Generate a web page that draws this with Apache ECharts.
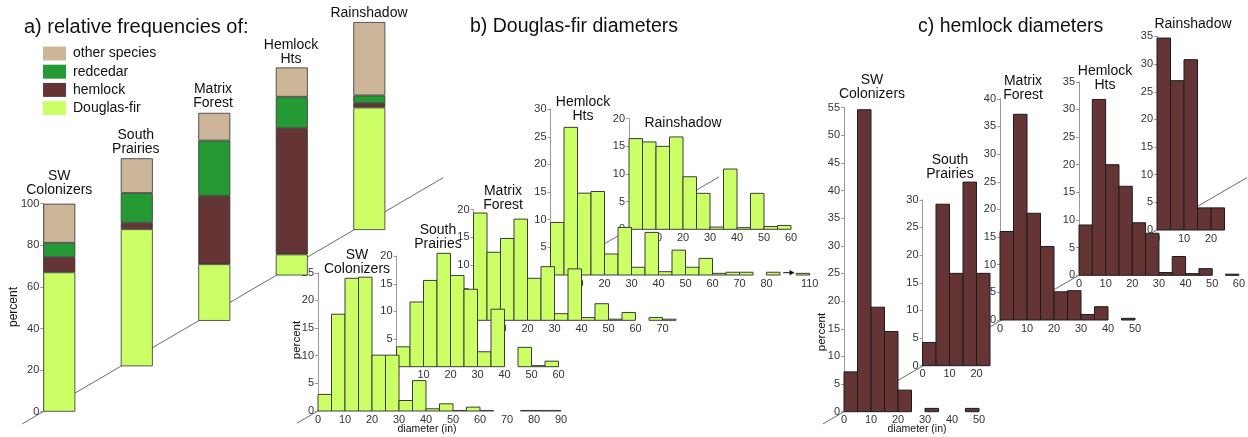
<!DOCTYPE html>
<html><head><meta charset="utf-8">
<script src="https://cdn.jsdelivr.net/npm/echarts@6/dist/echarts.min.js"></script>
<style>html,body{margin:0;padding:0;background:#fff}#c{width:1248px;height:437px}</style>
</head><body><div id="c"></div>
<script>
// ---------------- data ----------------
const sites = ['SW Colonizers', 'South Prairies', 'Matrix Forest', 'Hemlock Hts', 'Rainshadow'];
const siteLabels = ['SW\nColonizers', 'South\nPrairies', 'Matrix\nForest', 'Hemlock\nHts', 'Rainshadow'];
const species = ['other species', 'redcedar', 'hemlock', 'Douglas-fir'];
// panel a: relative frequencies (percent) per site
const pctDouglasFir = [67.0, 65.9, 27.2, 10.1, 58.9];
const pctHemlock    = [7.3, 3.1, 32.9, 60.7, 2.1];
const pctRedcedar   = [6.9, 14.3, 26.6, 15.1, 3.7];
const pctOther      = [18.8, 16.7, 13.3, 14.1, 35.3];
// diameter classes (in), 5-inch bins, lower edges
const binStarts = [0, 5, 10, 15, 20, 25, 30, 35, 40, 45, 50, 55, 60, 65, 70, 75, 80, 85];
const hhDfBinStarts = [0, 5, 10, 15, 20, 25, 30, 35, 40, 45, 50, 55, 60, 65, 70, 75, 80, 105];
// panel b: Douglas-fir diameter distributions (percent)
const dfSW = [3.0, 17.5, 24.0, 24.2, 10.1, 10.1, 1.9, 5.5, 0.4, 1.3, 0.1, 0.7, 0.1, 0, 0, 0.1, 0.1, 0.1];
const dfSP = [3.6, 11.7, 15.6, 20.5, 16.5, 14.0, 2.7, 10.4, 0, 3.5, 0.2, 1.0];
const dfMF = [19.4, 12.3, 14.8, 18.3, 7.6, 9.7, 1.2, 9.3, 0.5, 3.0, 0.2, 1.4, 0, 0.5, 0.2];
const dfHH = [9.5, 26.7, 14.8, 15.1, 3.8, 8.6, 1.4, 7.7, 0.6, 4.5, 1.4, 3.0, 0.3, 0.5, 0.5, 0, 0.5, 0.3];
const dfRS = [16.4, 15.8, 15.0, 16.7, 9.5, 6.5, 0.4, 10.9, 0.3, 6.5, 0.5, 0.7];
// panel c: hemlock diameter distributions (percent)
const hmSW = [7.2, 54.6, 18.9, 14.5, 3.9, 0, 0.6, 0, 0, 0.6];
const hmSP = [4.2, 29.2, 16.7, 33.2, 16.7];
const hmMF = [16.0, 37.2, 19.3, 13.3, 5.1, 5.3, 1.0, 2.4, 0, 0.3];
const hmHH = [9.1, 31.8, 20.0, 16.1, 9.5, 7.6, 0.5, 3.4, 0.3, 1.2, 0, 0.2];
const hmRS = [34.7, 27.0, 30.8, 4.0, 4.0];
// tick labels
const pctTicksA = [0, 20, 40, 60, 80, 100];
const bXTicks = [
  [0, 10, 20, 30, 40, 50, 60, 70, 80, 90],
  [0, 10, 20, 30, 40, 50, 60],
  [0, 10, 20, 30, 40, 50, 60, 70],
  [0, 10, 20, 30, 40, 50, 60, 70, 80, 110],
  [0, 10, 20, 30, 40, 50, 60]
];
const cXTicks = [
  [0, 10, 20, 30, 40, 50],
  [0, 10, 20],
  [0, 10, 20, 30, 40, 50],
  [0, 10, 20, 30, 40, 50, 60],
  [0, 10, 20]
];

// ---------------- layout / style ----------------
const FONT = "'Liberation Sans', Arial, sans-serif";
const SX = 2.7, SY = 5.53;
const COL = {'other species': '#cdb599', 'redcedar': '#259934', 'hemlock': '#653434', 'Douglas-fir': '#ccff66'};
const aLeft0 = 43.3, aBase0 = 411.7, aDX = 77.5, aDY = 45.42, aW = 32, aH = 208;
const bOrigins = [[318, 411], [396.5, 366.7], [473.5, 320.3], [550.5, 275], [629, 229.3]];
const cOrigins = [[844, 411.7], [922.5, 365.7], [1000, 320], [1079, 275.3], [1157, 230]];
const bXMax = [90, 60, 75, 96, 60], bYMax = [25, 20, 20, 30, 20];
const cXMax = [50, 25, 50, 60, 25], cYMax = [55, 30, 40, 35, 35];
const hhBreak = x => (x >= 105 ? x - 14 : x);
const hhUnbreak = v => (v > 90 ? v + 14 : v);
const ident = x => x;

const option = {
  animation: false,
  textStyle: {fontFamily: FONT},
  grid: [], xAxis: [], yAxis: [], series: [],
  legend: {
    orient: 'vertical', left: 43, top: 46.5, padding: 0, itemWidth: 23, itemHeight: 14, itemGap: 4.2,
    icon: 'rect', data: species, selectedMode: false,
    itemStyle: {borderWidth: 0},
    textStyle: {fontSize: 14, color: '#111', fontFamily: FONT, padding: [0, 0, 0, 2]}
  },
  graphic: {elements: []}
};

// ---------- panel a ----------
const aVals = {'Douglas-fir': pctDouglasFir, 'hemlock': pctHemlock, 'redcedar': pctRedcedar, 'other species': pctOther};
const stackOrder = ['Douglas-fir', 'hemlock', 'redcedar', 'other species'];
for (let i = 0; i < 5; i++) {
  option.grid.push({left: aLeft0 + i * aDX, top: aBase0 - i * aDY - aH, width: aW, height: aH});
  option.xAxis.push({type: 'category', gridIndex: i, data: [sites[i]], show: false});
  option.yAxis.push({
    type: 'value', gridIndex: i, min: 0, max: 100, interval: 20, show: i === 0,
    axisLine: {show: true, lineStyle: {color: '#999'}},
    axisTick: {show: true, length: 3, lineStyle: {color: '#999'}},
    axisLabel: {fontSize: 11, color: '#333', margin: 4, customValues: pctTicksA},
    splitLine: {show: false}
  });
}

// ---------- histogram grids ----------
function addHistGrid(origin, xmax, ymax, xticks, mapX, unmap) {
  const gi = option.grid.length;
  option.grid.push({left: origin[0], top: origin[1] - ymax * SY, width: xmax * SX, height: ymax * SY});
  option.xAxis.push({
    type: 'value', gridIndex: gi, min: 0, max: xmax,
    axisLine: {show: false}, axisTick: {show: false}, splitLine: {show: false},
    axisLabel: {customValues: xticks.map(mapX), fontSize: 11, color: '#333', margin: 3,
      formatter: v => String(Math.round(unmap(v)))}
  });
  option.yAxis.push({
    type: 'value', gridIndex: gi, min: 0, max: ymax, interval: 5,
    axisLine: {show: true, lineStyle: {color: '#999'}},
    axisTick: {show: true, length: 3, lineStyle: {color: '#999'}},
    axisLabel: {fontSize: 11, color: '#333', margin: 4},
    splitLine: {show: false}
  });
  return gi;
}
function histSeries(gi, starts, vals, fill, stroke, mapX, name) {
  return {
    type: 'custom', name: name, xAxisIndex: gi, yAxisIndex: gi,
    encode: {x: [0, 1], y: 2},
    data: vals.map((v, k) => [starts[k], starts[k] + 5, v]),
    renderItem: function (params, api) {
      const v = api.value(2);
      if (!(v > 0)) return null;
      const p0 = api.coord([mapX(api.value(0)), v]);
      const p1 = api.coord([mapX(api.value(1)), 0]);
      return {type: 'rect', shape: {x: p0[0], y: p0[1], width: p1[0] - p0[0], height: p1[1] - p0[1]},
        style: {fill: fill, stroke: stroke, lineWidth: 1}};
    }
  };
}

const bGi = [], cGi = [];
for (let i = 0; i < 5; i++) {
  const mx = i === 3 ? hhBreak : ident, um = i === 3 ? hhUnbreak : ident;
  bGi.push(addHistGrid(bOrigins[i], bXMax[i], bYMax[i], bXTicks[i], mx, um));
}
for (let i = 0; i < 5; i++) {
  cGi.push(addHistGrid(cOrigins[i], cXMax[i], cYMax[i], cXTicks[i], ident, ident));
}

// series: back panels first so front panels draw on top
const dfData = [dfSW, dfSP, dfMF, dfHH, dfRS];
const hmData = [hmSW, hmSP, hmMF, hmHH, hmRS];
for (let i = 4; i >= 0; i--) {
  for (const sp of stackOrder) {
    option.series.push({
      type: 'bar', name: sp, stack: 'a' + i, xAxisIndex: i, yAxisIndex: i, barWidth: '100%',
      data: [aVals[sp][i]],
      itemStyle: {color: COL[sp], borderColor: '#333', borderWidth: 0.8}
    });
  }
}
for (let i = 4; i >= 0; i--) {
  const mx = i === 3 ? hhBreak : ident;
  option.series.push(histSeries(bGi[i], i === 3 ? hhDfBinStarts : binStarts, dfData[i], '#ccff66', '#3c3c3c', mx, 'df ' + sites[i]));
  if (i === 3) {
    option.series.push({
      type: 'custom', xAxisIndex: bGi[3], yAxisIndex: bGi[3], encode: {x: [0, 1], y: 2},
      data: [[86.2, 90.4, 0.42]],
      renderItem: function (params, api) {
        const a = api.coord([api.value(0), api.value(2)]);
        const b = api.coord([api.value(1), api.value(2)]);
        return {type: 'group', children: [
          {type: 'line', shape: {x1: a[0], y1: a[1], x2: b[0] - 4, y2: b[1]}, style: {stroke: '#111', lineWidth: 1}},
          {type: 'polygon', shape: {points: [[b[0], b[1]], [b[0] - 5, b[1] - 2.6], [b[0] - 5, b[1] + 2.6]]}, style: {fill: '#111'}}
        ]};
      }
    });
  }
}
for (let i = 4; i >= 0; i--) {
  option.series.push(histSeries(cGi[i], binStarts, hmData[i], '#653434', '#1c1c1c', ident, 'hm ' + sites[i]));
}

// ---------- decorations: depth lines, titles, labels ----------
const G = option.graphic.elements;
function depthLine(o0, o4) {
  G.push({type: 'line', z: -10, shape: {x1: o0[0] - 21, y1: o0[1] + 12.2, x2: o4[0] + 90, y2: o4[1] - 52.4},
    style: {stroke: '#444', lineWidth: 0.8}});
}
depthLine([aLeft0, aBase0], [aLeft0 + 4 * aDX, aBase0 - 4 * aDY]);
depthLine(bOrigins[0], bOrigins[4]);
depthLine(cOrigins[0], cOrigins[4]);

function txt(t, x, y, size, align, rot) {
  G.push({type: 'text', z: 100, x: x, y: y, rotation: rot || 0,
    style: {text: t, x: 0, y: 0, font: size + 'px ' + FONT, fill: '#111',
      align: align || 'center', verticalAlign: 'middle', lineHeight: 14}});
}
txt('a) relative frequencies of:', 24, 27, 20, 'left');
txt('b) Douglas-fir diameters', 470, 27, 19.5, 'left');
txt('c) hemlock diameters', 918, 27, 19.5, 'left');

const aLabelPos = [[59.3, 183], [135.8, 142], [213, 96.5], [291, 52], [369, 13]];
const bLabelPos = [[357, 262], [438, 237], [503, 198], [583, 109], [683, 123]];
const cLabelPos = [[872, 87.5], [950, 167], [1023, 88.5], [1105, 78], [1193, 24]];
for (let i = 0; i < 5; i++) {
  txt(siteLabels[i], aLabelPos[i][0], aLabelPos[i][1], 14);
  txt(siteLabels[i], bLabelPos[i][0], bLabelPos[i][1], 14);
  txt(siteLabels[i], cLabelPos[i][0], cLabelPos[i][1], 14);
}
txt('diameter (in)', 427, 429.5, 10.5);
txt('diameter (in)', 917, 429.5, 10.5);
txt('percent', 14, 307, 12, 'center', Math.PI / 2);
txt('percent', 297, 340, 11.5, 'center', Math.PI / 2);
txt('percent', 822, 332, 11.5, 'center', Math.PI / 2);

const chart = echarts.init(document.getElementById('c'), null, {renderer: 'canvas'});
chart.setOption(option);
</script>
</body></html>
